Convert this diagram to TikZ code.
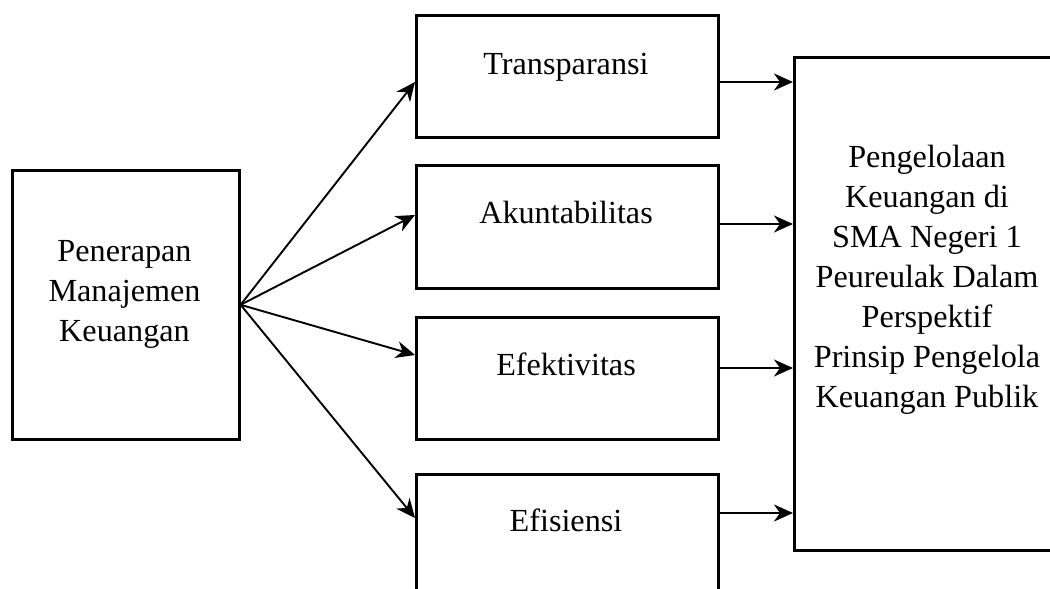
\documentclass[tikz,border=0pt]{standalone}
\usepackage{fontspec}
\setmainfont{Liberation Serif}
\usetikzlibrary{arrows.meta}
\begin{document}
\begin{tikzpicture}[x=1pt,y=-1pt,
  box/.style={draw, line width=2.6pt, inner sep=0pt, anchor=north west},
  lbl/.style={font=\fontsize{32.2}{40}\selectfont, align=center, inner sep=0pt},
  arr/.style={line width=1.9pt, -{Stealth[length=19pt,width=17pt,inset=6pt]}}]
\useasboundingbox (0,0) rectangle (1050,589);
\clip (0,0) rectangle (1050,589);
% boxes
\node[box, minimum width=227pt, minimum height=269pt] (L) at (11,169) {};
\node[box, minimum width=302pt, minimum height=122pt] (T1) at (415,14) {};
\node[box, minimum width=302pt, minimum height=123pt] (T2) at (415,164) {};
\node[box, minimum width=302pt, minimum height=122pt] (T3) at (415,316) {};
\node[box, minimum width=302pt, minimum height=200pt] (T4) at (415,473) {};
\node[box, minimum width=300pt, minimum height=493pt] (R) at (793,56) {};
% labels
\node[lbl] (Ltext) at (124.5,294) {Penerapan\\Manajemen\\Keuangan};
\node[lbl, anchor=base] (T1text) at (566,74) {Transparansi};
\node[lbl, anchor=base] (T2text) at (566,223) {Akuntabilitas};
\node[lbl, anchor=base] (T3text) at (566,375) {Efektivitas};
\node[lbl, anchor=base] (T4text) at (566,531) {Efisiensi};
\node[lbl] (Rtext) at (927,280) {Pengelolaan\\Keuangan di\\SMA Negeri 1\\Peureulak Dalam\\Perspektif\\Prinsip Pengelola\\Keuangan Publik};
% diagonal arrows
\draw[arr] (L.east) -- (T1.west |- 0,82);
\draw[arr] (L.east) -- (T2.west |- 0,215);
\draw[arr] (L.east) -- (T3.west |- 0,355);
\draw[arr] (L.east) -- (T4.west |- 0,518);
% horizontal arrows
\draw[arr] (T1.east |- 0,82) -- (R.west |- 0,82);
\draw[arr] (T2.east |- 0,224) -- (R.west |- 0,224);
\draw[arr] (T3.east |- 0,368) -- (R.west |- 0,368);
\draw[arr] (T4.east |- 0,513) -- (R.west |- 0,513);
\end{tikzpicture}
\end{document}
